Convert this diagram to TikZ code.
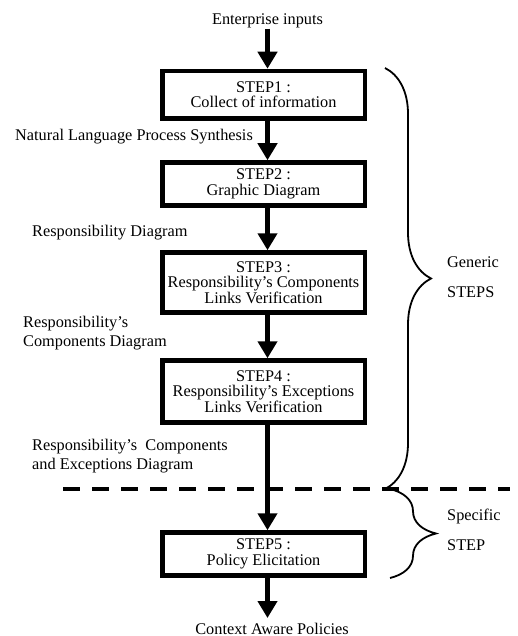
\documentclass[tikz,border=0pt]{standalone}
\usepackage{fontspec}
\setmainfont{Liberation Serif}
\usetikzlibrary{arrows.meta,positioning,decorations.pathreplacing,calc}

\begin{document}
\begin{tikzpicture}[
    x=1pt,y=-1pt,
    stepbox/.style={draw=black,line width=4.5pt,minimum width=202.5pt,inner sep=2pt,align=center,font=\fontsize{16.3}{15.5}\selectfont},
    flow/.style={-{Triangle[width=19pt,length=17pt]},line width=4.5pt,draw=black},
    note/.style={anchor=west,align=left,inner sep=0pt,font=\fontsize{16.3}{19.5}\selectfont},
    txt/.style={inner sep=0pt,font=\fontsize{16.3}{19.5}\selectfont},
    brc/.style={decorate,decoration={brace,amplitude=46pt},line width=1.8pt},
    sep/.style={line width=4.5pt,dash pattern=on 17pt off 12pt}
  ]
  \useasboundingbox (0,0) rectangle (517,636);

  \node[txt,anchor=base] (ent) at (267.5,25) {Enterprise inputs};
  \node[stepbox,minimum height=47.5pt] (s1) at (263.5,94.75) {STEP1 :\\Collect of information};
  \node[stepbox,minimum height=43pt] (s2) at (263.5,184) {STEP2 :\\Graphic Diagram};
  \node[stepbox,minimum height=60pt] (s3) at (263.5,282.5) {STEP3 :\\Responsibility’s Components\\Links Verification};
  \node[stepbox,minimum height=62pt] (s4) at (263.5,391.5) {STEP4 :\\Responsibility’s Exceptions\\Links Verification};
  \node[stepbox,minimum height=43pt] (s5) at (263.5,554) {STEP5 :\\Policy Elicitation};
  \node[txt,anchor=base] (ctx) at (272,634) {Context Aware Policies};
  \coordinate (end) at (267.5,618);

  % flow between the steps (slightly right of the box centres, as in the source)
  \draw[flow] (ent.south) -- ([xshift=4pt]s1.north);
  \draw[flow] ([xshift=4pt]s1.south) -- ([xshift=4pt]s2.north);
  \draw[flow] ([xshift=4pt]s2.south) -- ([xshift=4pt]s3.north);
  \draw[flow] ([xshift=4pt]s3.south) -- ([xshift=4pt]s4.north);
  \draw[flow] ([xshift=4pt]s4.south) -- ([xshift=4pt]s5.north);
  \draw[flow] ([xshift=4pt]s5.south) -- (end);

  % artefacts passed on
  \node[note] (l1) at (15,137) {Natural Language Process Synthesis};
  \node[note] (l2) at (32,233) {Responsibility Diagram};
  \node[note] (l3) at (23,333) {Responsibility’s\\Components Diagram};
  \node[note] (l4) at (32,456) {Responsibility’s~ Components\\and Exceptions Diagram};

  % generic / specific split
  \coordinate (dl) at (63,489);
  \coordinate (dr) at (510,489);
  \draw[sep] (dl) -- (dr);

  \draw[brc] (385,68) -- (385,489);
  \draw[brc] (390,489) -- (390,578);
  \node[note,font=\fontsize{16.3}{30}\selectfont] (gen) at (447,277) {Generic\\STEPS};
  \node[note,font=\fontsize{16.3}{30}\selectfont] (spec) at (447,530) {Specific\\STEP};

\end{tikzpicture}
\end{document}
